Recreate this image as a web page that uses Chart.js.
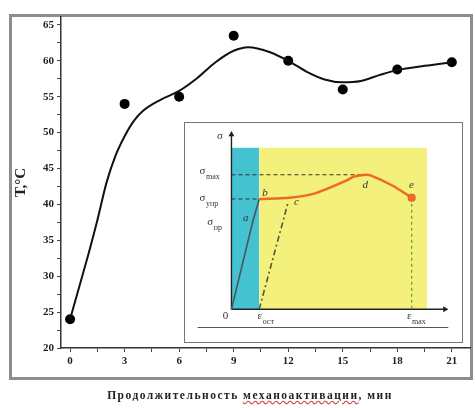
<!DOCTYPE html>
<html>
<head>
<meta charset="utf-8">
<script src="https://cdn.jsdelivr.net/npm/chart.js@4/dist/chart.umd.min.js"></script>
<style>
  body { margin: 0; background: #fff; }
  #wrap { position: relative; width: 475px; height: 408px; overflow: hidden; }
  #frame { position: absolute; left: 9px; top: 14px; width: 458px; height: 360px; border: 3px solid #8d8d8d; }
  #main { position: absolute; left: 0; top: 0; }
  #inset { position: absolute; left: 184px; top: 122px; width: 277px; height: 219px; border: 1px solid #777; background: #fff; }
  #xtitle { position: absolute; left: 0; width: 500px; top: 389px; text-align: center;
            font: bold 11.5px "Liberation Serif", serif; color: #222; letter-spacing: 1.5px; }
  #xtitle span { text-decoration: underline wavy #d04040; }
</style>
</head>
<body>
<div id="wrap">
  <div id="frame"></div>
  <canvas id="main" width="475" height="408"></canvas>
  <div id="inset"><canvas id="insetCanvas" width="277" height="219"></canvas></div>
  <div id="xtitle">Продолжительность <span>механоактивации</span>, мин</div>
</div>
<script>
// измеренные точки
const timeMin = [0, 3, 6, 9, 12, 15, 18, 21];
const tempC = [24, 54, 55, 63.5, 60, 56, 58.8, 59.8];

// аппроксимирующая кривая
const fitX = [0, 0.5, 1, 1.5, 2, 2.5, 3, 3.5, 4, 5, 6, 7, 8, 9, 9.8, 11, 12, 13, 14, 15, 16, 17, 18, 19.5, 21];
const fitT = [24, 28.5, 33, 37.8, 43, 46.8, 49.5, 51.6, 53, 54.6, 55.8, 57.6, 59.8, 61.4, 61.9, 61.2, 60, 58.5, 57.4, 57, 57.2, 58, 58.7, 59.3, 59.8];

// деления осей
const xTickValues = [0, 1.5, 3, 4.5, 6, 7.5, 9, 10.5, 12, 13.5, 15, 16.5, 18, 19.5, 21];
const yTickValues = [20, 22.5, 25, 27.5, 30, 32.5, 35, 37.5, 40, 42.5, 45, 47.5, 50, 52.5, 55, 57.5, 60, 62.5, 65];

// схема диаграммы деформации (вставка)
const regionTop = 120;
const elasticEps = [0, 7.6, 10];
const elasticSig = [0, 64.5, 82];
const plasticEps = [10, 21, 29.5, 41.4, 44.1, 48.3, 50.4, 58, 65];
const plasticSig = [82, 83, 85.8, 95.7, 98.6, 100, 99.3, 92, 83];
const unloadEps = [10, 20.5];
const unloadSig = [0, 80];
const sigMax = 100;
const sigElastic = 82;
const epsResidual = 10;
const epsMax = 65;
const epsYellowEnd = 70.5;

const tickFont = { family: '"Liberation Serif", serif', size: 11, weight: 'bold' };
const pts = (xs, ys) => xs.map((x, i) => ({ x: x, y: ys[i] }));

new Chart(document.getElementById('main'), {
    type: 'scatter',
    data: {
        datasets: [
            {
                type: 'line',
                data: pts(fitX, fitT),
                borderColor: '#111',
                borderWidth: 2,
                pointRadius: 0,
                cubicInterpolationMode: 'monotone',
                fill: false
            },
            {
                data: pts(timeMin, tempC),
                backgroundColor: '#000',
                borderWidth: 0,
                pointRadius: 5
            }
        ]
    },
    options: {
        responsive: false,
        animation: false,
        devicePixelRatio: 1,
        layout: { padding: { left: 10, top: 17, right: 5, bottom: 40 } },
        plugins: { legend: { display: false }, tooltip: { enabled: false } },
        scales: {
            x: {
                type: 'linear',
                min: -0.5,
                max: 22,
                afterBuildTicks: s => { s.ticks = xTickValues.map(v => ({ value: v })); },
                afterFit: s => { s.height = 20; },
                ticks: {
                    autoSkip: false, maxRotation: 0, padding: 3, color: '#222', font: tickFont,
                    callback: v => (v % 3 === 0 ? v : '')
                },
                grid: { drawOnChartArea: false, tickLength: 4, color: '#444' },
                border: { color: '#333', width: 1.5 }
            },
            y: {
                min: 20,
                max: 66.1,
                afterBuildTicks: s => { s.ticks = yTickValues.map(v => ({ value: v })); },
                afterFit: s => { s.width = 51; },
                ticks: {
                    autoSkip: false, padding: 3, color: '#222', font: tickFont,
                    callback: v => (v % 5 === 0 ? v : '')
                },
                grid: { drawOnChartArea: false, tickLength: 4, color: '#444' },
                border: { color: '#333', width: 1.5 },
                title: {
                    display: true, text: 'Т,°С', color: '#222', padding: { top: 2, bottom: 0 },
                    font: { family: '"Liberation Serif", serif', size: 15, weight: 'bold' }
                }
            }
        }
    }
});

// подписи на вставке
const insetLabels = [
    { t: 'σ', s: '', x: -5.2, y: 129 },
    { t: 'σ', s: 'max', x: -11.5, y: 102.8 },
    { t: 'σ', s: 'упр', x: -11.5, y: 83 },
    { t: 'σ', s: 'пр', x: -8.7, y: 65 },
    { t: '0', s: '', x: -3.1, y: -5 },
    { t: 'ε', s: 'ост', x: 9.4, y: -5 },
    { t: 'ε', s: 'max', x: 63.3, y: -5 },
    { t: 'a', s: '', x: 4.2, y: 68, it: true },
    { t: 'b', s: '', x: 11.1, y: 86, it: true },
    { t: 'c', s: '', x: 22.6, y: 80, it: true },
    { t: 'd', s: '', x: 47.3, y: 92, it: true },
    { t: 'e', s: '', x: 64, y: 92, it: true }
];

const labelPlugin = {
    id: 'insetLabels',
    afterDatasetsDraw(chart) {
        const { ctx, scales } = chart;
        ctx.save();
        ctx.fillStyle = '#333';
        ctx.textBaseline = 'middle';
        ctx.textAlign = 'left';
        insetLabels.forEach(l => {
            const px = scales.x.getPixelForValue(l.x);
            const py = scales.y.getPixelForValue(l.y);
            ctx.font = (l.it ? 'italic ' : '') + '11px "Liberation Serif", serif';
            ctx.fillText(l.t, px, py);
            if (l.s) {
                const w = ctx.measureText(l.t).width;
                ctx.font = '8px "Liberation Serif", serif';
                ctx.fillText(l.s, px + w + 0.5, py + 6);
            }
        });
        ctx.restore();
    }
};

const line = (data, color, width, extra) => Object.assign({
    data: data, showLine: true, borderColor: color, borderWidth: width,
    pointRadius: 0, fill: false, order: 2
}, extra || {});

new Chart(document.getElementById('insetCanvas'), {
    type: 'scatter',
    data: {
        datasets: [
            line(pts(plasticEps, plasticSig), '#ee6a22', 2.5, { tension: 0.3, order: 1 }),
            { data: [{ x: epsMax, y: plasticSig[plasticSig.length - 1] }], backgroundColor: '#f06a2a', pointRadius: 4, order: 0 },
            line(pts(elasticEps, elasticSig), '#4a5560', 1.6),
            line(pts(unloadEps, unloadSig), '#4c5a40', 1.6, { borderDash: [6, 3, 2, 3] }),
            line([{ x: 0, y: sigMax }, { x: 48.3, y: sigMax }], '#333', 1, { borderDash: [4, 3] }),
            line([{ x: 0, y: sigElastic }, { x: epsResidual, y: sigElastic }], '#333', 1, { borderDash: [4, 3] }),
            line([{ x: epsMax, y: plasticSig[plasticSig.length - 1] }, { x: epsMax, y: 0 }], '#6a9a40', 1.2, { borderDash: [3, 3] }),
            line([{ x: 0, y: 0 }, { x: 0, y: 130 }], '#222', 1.4, {
                pointRadius: [0, 3.5], pointStyle: 'triangle', backgroundColor: '#222', pointBorderWidth: 0, rotation: 0
            }),
            line([{ x: 0, y: 0 }, { x: 77, y: 0 }], '#222', 1.4, {
                pointRadius: [0, 3.5], pointStyle: 'triangle', backgroundColor: '#222', pointBorderWidth: 0, rotation: 90
            }),
            line([{ x: -12.2, y: -13.5 }, { x: 78.2, y: -13.5 }], '#555', 1),
            line([{ x: 0, y: regionTop }, { x: epsResidual, y: regionTop }], 'rgba(0,0,0,0)', 0,
                { fill: 'origin', backgroundColor: '#45c2d0', order: 10 }),
            line([{ x: epsResidual, y: regionTop }, { x: epsYellowEnd, y: regionTop }], 'rgba(0,0,0,0)', 0,
                { fill: 'origin', backgroundColor: '#f3f07c', order: 10 })
        ]
    },
    options: {
        responsive: false,
        animation: false,
        devicePixelRatio: 1,
        layout: { padding: 0 },
        plugins: { legend: { display: false }, tooltip: { enabled: false } },
        scales: {
            x: { type: 'linear', display: false, min: -14.95, max: 81.34 },
            y: { display: false, min: -20.57, max: 134.75 }
        }
    },
    plugins: [labelPlugin]
});
</script>
</body>
</html>
